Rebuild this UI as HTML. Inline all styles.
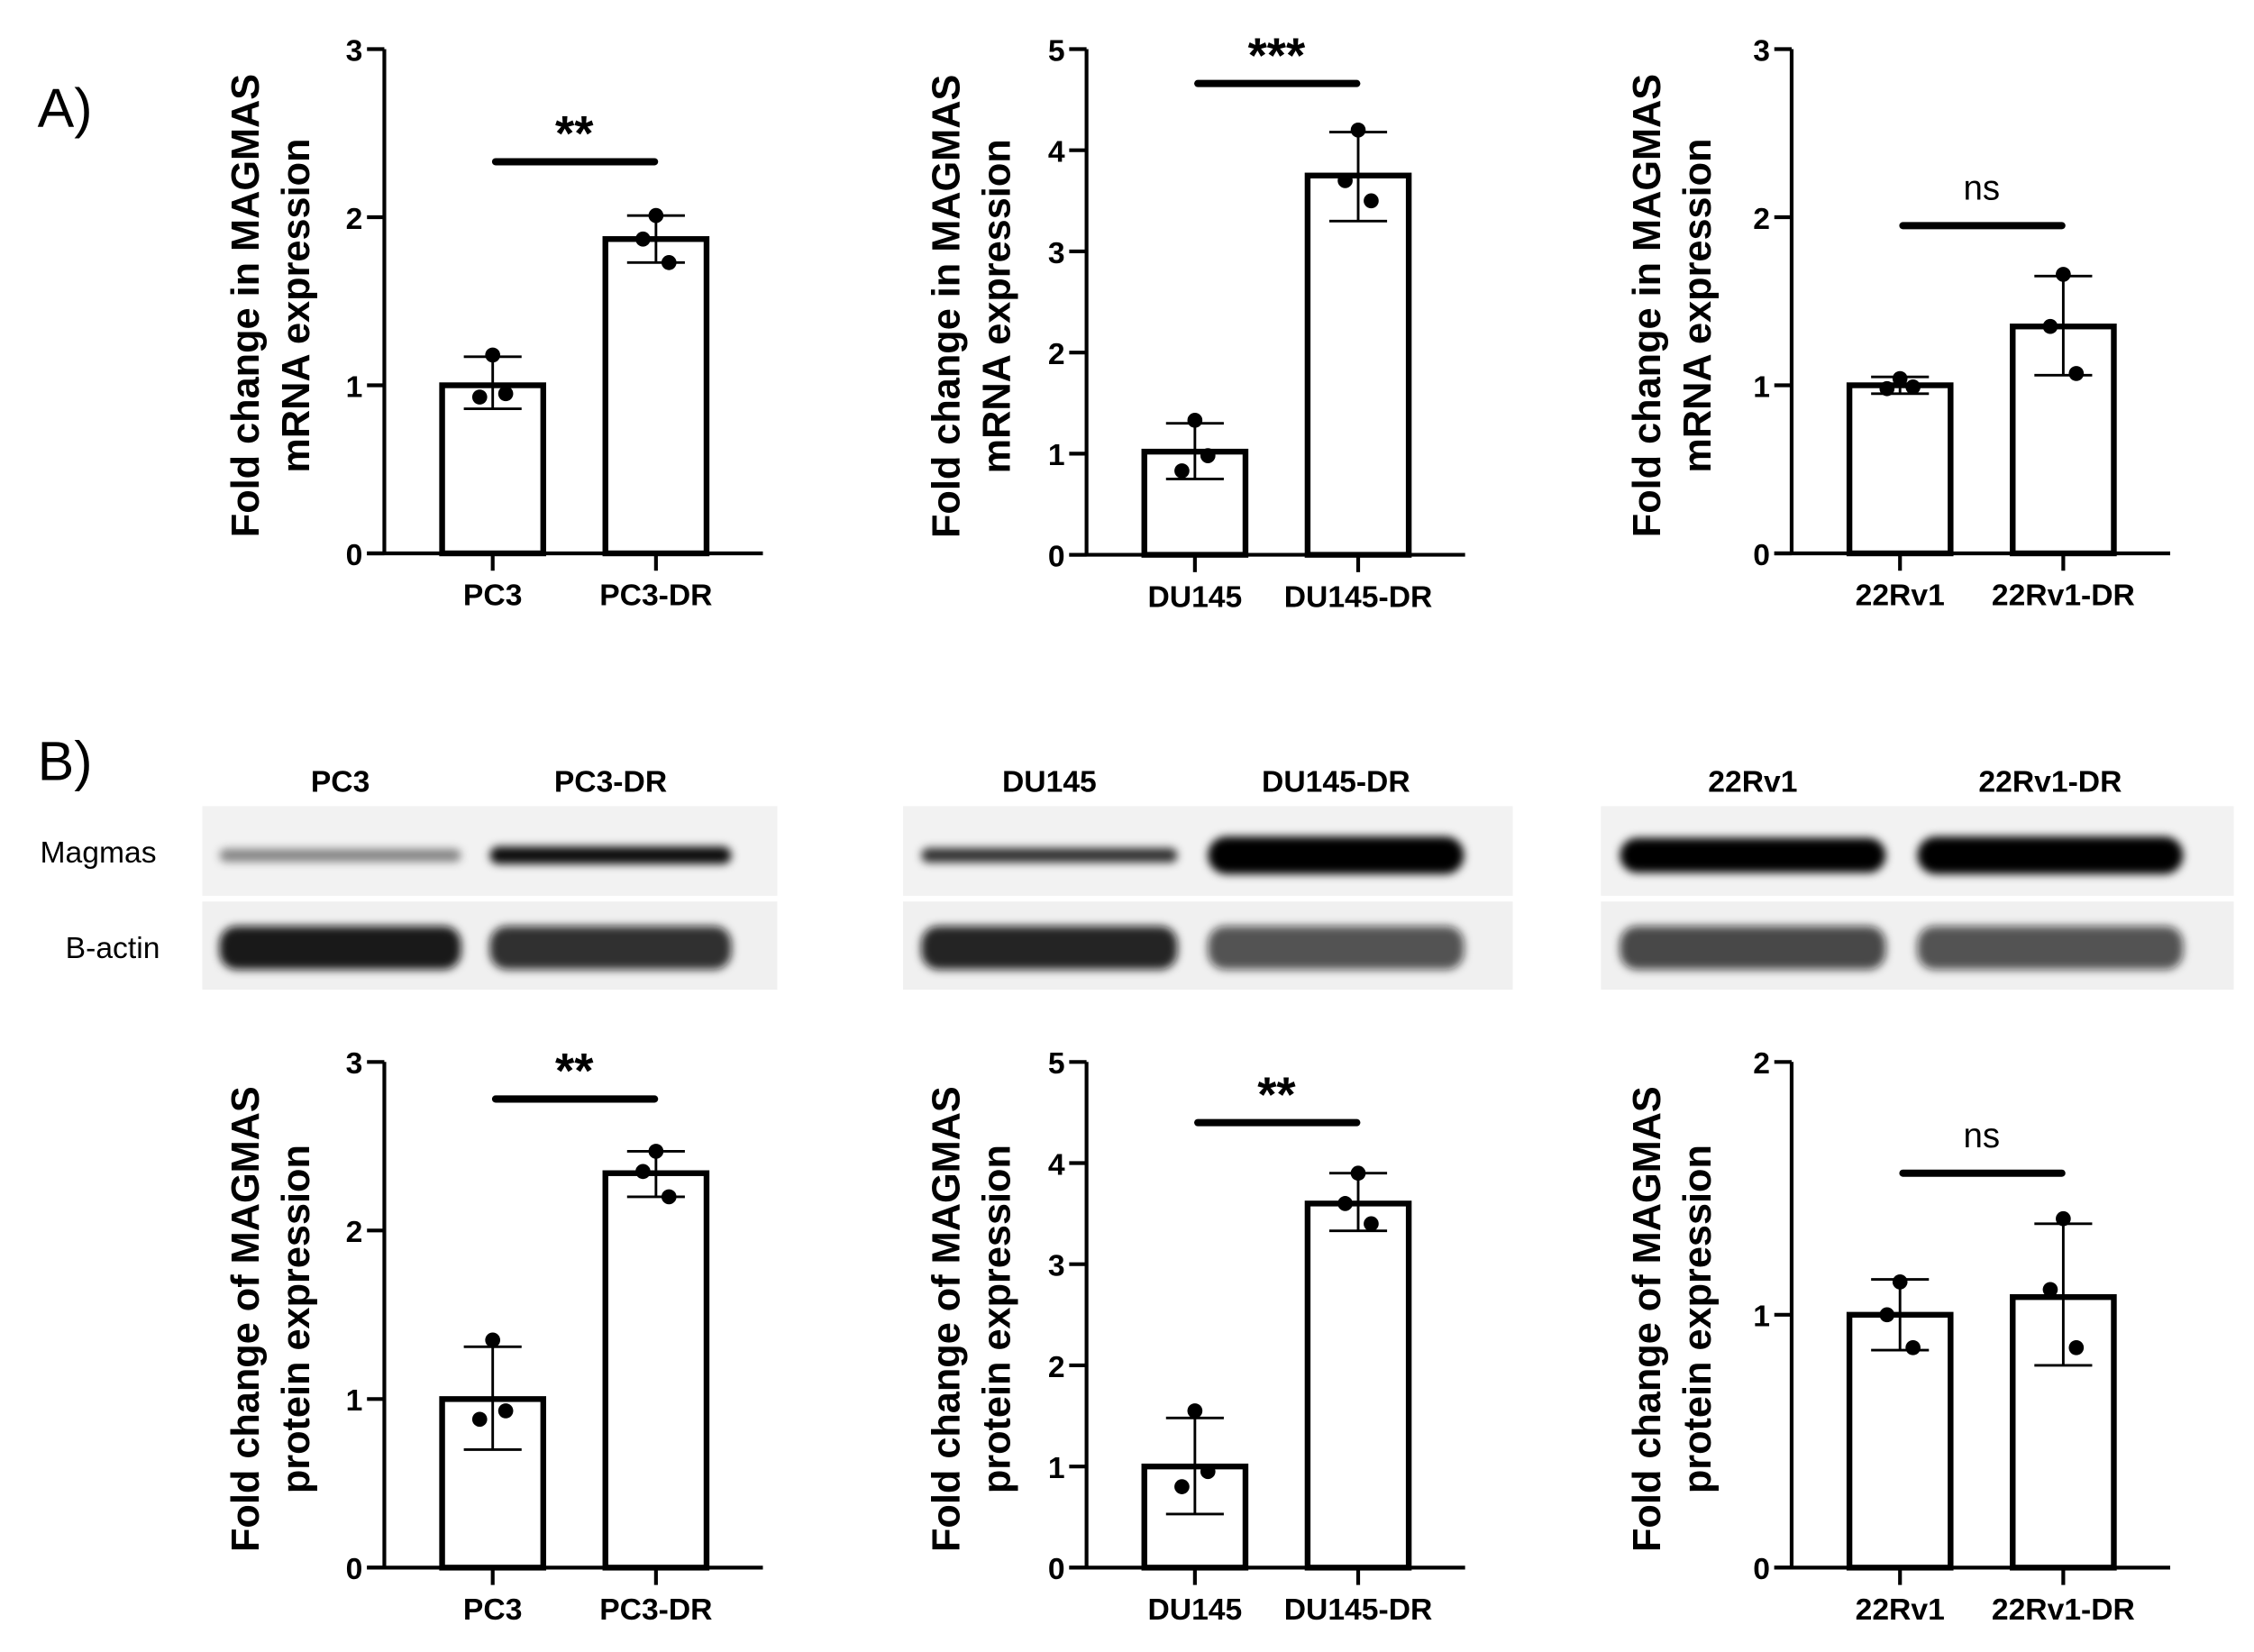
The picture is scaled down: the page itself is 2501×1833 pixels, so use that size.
<!DOCTYPE html>
<html><head><meta charset="utf-8"><style>
html,body{margin:0;padding:0;background:#fff}
#wrap{position:relative;width:2501px;height:1833px;overflow:hidden}
svg{display:block;position:absolute;left:0;top:0}
text{font-family:"Liberation Sans",Arial,sans-serif}
</style></head><body>
<div id="wrap"></div>
<script>
var mgTitlesA = ["Fold change in MAGMAS", "mRNA expression"];
var mgTitlesB = ["Fold change of MAGMAS", "protein expression"];
var catsA1 = ["PC3", "PC3-DR"];
var catsA2 = ["DU145", "DU145-DR"];
var catsA3 = ["22Rv1", "22Rv1-DR"];
var meansA1 = [1.0, 1.87];
var errLoA1 = [0.86, 1.73];
var errHiA1 = [1.17, 2.01];
var ptsA1 = [[1.18, 0.93, 0.95], [2.01, 1.87, 1.73]];
var meansA2 = [1.02, 3.75];
var errLoA2 = [0.75, 3.3];
var errHiA2 = [1.3, 4.18];
var ptsA2 = [[1.33, 0.83, 0.98], [4.2, 3.7, 3.5]];
var meansA3 = [1.0, 1.35];
var errLoA3 = [0.95, 1.06];
var errHiA3 = [1.05, 1.65];
var ptsA3 = [[1.04, 0.98, 0.99], [1.66, 1.35, 1.07]];
var meansB1 = [1.0, 2.34];
var errLoB1 = [0.7, 2.2];
var errHiB1 = [1.31, 2.47];
var ptsB1 = [[1.35, 0.88, 0.93], [2.47, 2.35, 2.2]];
var meansB2 = [1.0, 3.6];
var errLoB2 = [0.53, 3.33];
var errHiB2 = [1.48, 3.9];
var ptsB2 = [[1.55, 0.8, 0.95], [3.9, 3.6, 3.4]];
var meansB3 = [1.0, 1.07];
var errLoB3 = [0.86, 0.8];
var errHiB3 = [1.14, 1.36];
var ptsB3 = [[1.13, 1.0, 0.87], [1.38, 1.1, 0.87]];
var mgYMaxs = [3, 5, 3, 3, 5, 2];
var mgSigLabels = ["**", "***", "ns", "**", "**", "ns"];
var mgSigVals = [2.33, 4.66, 1.95, 2.78, 4.4, 1.56];
var blotCats = [["PC3", "PC3-DR"], ["DU145", "DU145-DR"], ["22Rv1", "22Rv1-DR"]];
var magDark = [[0.45, 0.95], [0.8, 1.0], [1.0, 1.0]];
var actDark = [[0.95, 0.85], [0.9, 0.7], [0.75, 0.7]];

var MG_SVGNS = "http://www.w3.org/2000/svg";

function mgEl(tag, parent) {
  var e = document.createElementNS(MG_SVGNS, tag);
  parent.appendChild(e);
  return e;
}
function mgSet(e, obj) {
  for (var k in obj) {
    if (Object.prototype.hasOwnProperty.call(obj, k)) {
      e.setAttribute(k, String(obj[k]));
    }
  }
}
function mgArr(v, fb) {
  if (v && typeof v.length === 'number' && v.length > 0) { return v; }
  return fb;
}
function mgData() {
  var d = {};
  d.tA = mgArr(typeof mgTitlesA !== 'undefined' ? mgTitlesA : null, ["Fold change in MAGMAS", "mRNA expression"]);
  d.tB = mgArr(typeof mgTitlesB !== 'undefined' ? mgTitlesB : null, ["Fold change of MAGMAS", "protein expression"]);
  d.cA1 = mgArr(typeof catsA1 !== 'undefined' ? catsA1 : null, ["PC3", "PC3-DR"]);
  d.cA2 = mgArr(typeof catsA2 !== 'undefined' ? catsA2 : null, ["DU145", "DU145-DR"]);
  d.cA3 = mgArr(typeof catsA3 !== 'undefined' ? catsA3 : null, ["22Rv1", "22Rv1-DR"]);
  d.mA1 = mgArr(typeof meansA1 !== 'undefined' ? meansA1 : null, [1.0, 1.87]);
  d.lA1 = mgArr(typeof errLoA1 !== 'undefined' ? errLoA1 : null, [0.86, 1.73]);
  d.hA1 = mgArr(typeof errHiA1 !== 'undefined' ? errHiA1 : null, [1.17, 2.01]);
  d.pA1 = mgArr(typeof ptsA1 !== 'undefined' ? ptsA1 : null, [[1.18, 0.93, 0.95], [2.01, 1.87, 1.73]]);
  d.mA2 = mgArr(typeof meansA2 !== 'undefined' ? meansA2 : null, [1.02, 3.75]);
  d.lA2 = mgArr(typeof errLoA2 !== 'undefined' ? errLoA2 : null, [0.75, 3.3]);
  d.hA2 = mgArr(typeof errHiA2 !== 'undefined' ? errHiA2 : null, [1.3, 4.18]);
  d.pA2 = mgArr(typeof ptsA2 !== 'undefined' ? ptsA2 : null, [[1.33, 0.83, 0.98], [4.2, 3.7, 3.5]]);
  d.mA3 = mgArr(typeof meansA3 !== 'undefined' ? meansA3 : null, [1.0, 1.35]);
  d.lA3 = mgArr(typeof errLoA3 !== 'undefined' ? errLoA3 : null, [0.95, 1.06]);
  d.hA3 = mgArr(typeof errHiA3 !== 'undefined' ? errHiA3 : null, [1.05, 1.65]);
  d.pA3 = mgArr(typeof ptsA3 !== 'undefined' ? ptsA3 : null, [[1.04, 0.98, 0.99], [1.66, 1.35, 1.07]]);
  d.mB1 = mgArr(typeof meansB1 !== 'undefined' ? meansB1 : null, [1.0, 2.34]);
  d.lB1 = mgArr(typeof errLoB1 !== 'undefined' ? errLoB1 : null, [0.7, 2.2]);
  d.hB1 = mgArr(typeof errHiB1 !== 'undefined' ? errHiB1 : null, [1.31, 2.47]);
  d.pB1 = mgArr(typeof ptsB1 !== 'undefined' ? ptsB1 : null, [[1.35, 0.88, 0.93], [2.47, 2.35, 2.2]]);
  d.mB2 = mgArr(typeof meansB2 !== 'undefined' ? meansB2 : null, [1.0, 3.6]);
  d.lB2 = mgArr(typeof errLoB2 !== 'undefined' ? errLoB2 : null, [0.53, 3.33]);
  d.hB2 = mgArr(typeof errHiB2 !== 'undefined' ? errHiB2 : null, [1.48, 3.9]);
  d.pB2 = mgArr(typeof ptsB2 !== 'undefined' ? ptsB2 : null, [[1.55, 0.8, 0.95], [3.9, 3.6, 3.4]]);
  d.mB3 = mgArr(typeof meansB3 !== 'undefined' ? meansB3 : null, [1.0, 1.07]);
  d.lB3 = mgArr(typeof errLoB3 !== 'undefined' ? errLoB3 : null, [0.86, 0.8]);
  d.hB3 = mgArr(typeof errHiB3 !== 'undefined' ? errHiB3 : null, [1.14, 1.36]);
  d.pB3 = mgArr(typeof ptsB3 !== 'undefined' ? ptsB3 : null, [[1.13, 1.0, 0.87], [1.38, 1.1, 0.87]]);
  d.yMax = mgArr(typeof mgYMaxs !== 'undefined' ? mgYMaxs : null, [3, 5, 3, 3, 5, 2]);
  d.sigL = mgArr(typeof mgSigLabels !== 'undefined' ? mgSigLabels : null, ["**", "***", "ns", "**", "**", "ns"]);
  d.sigV = mgArr(typeof mgSigVals !== 'undefined' ? mgSigVals : null, [2.33, 4.66, 1.95, 2.78, 4.4, 1.56]);
  d.bCats = mgArr(typeof blotCats !== 'undefined' ? blotCats : null, [["PC3", "PC3-DR"], ["DU145", "DU145-DR"], ["22Rv1", "22Rv1-DR"]]);
  d.mDark = mgArr(typeof magDark !== 'undefined' ? magDark : null, [[0.45, 0.95], [0.8, 1.0], [1.0, 1.0]]);
  d.aDark = mgArr(typeof actDark !== 'undefined' ? actDark : null, [[0.95, 0.85], [0.9, 0.7], [0.75, 0.7]]);
  return d;
}

function mgPanel(root, p, yMax, sigLab, sigVal) {
  var g = mgEl('g', root);
  
  
  function sy(v) { return p.y0 - (Number(v) / yMax) * (p.y0 - p.y1); }
  function xc(k) { return p.ax + 75 + k * 113; }
  var bw = 70;
  var ya = mgEl('line', g);
  mgSet(ya, {x1:p.ax, y1:p.y1, x2:p.ax, y2:p.y0, stroke:'#000', 'stroke-width':2.6});
  
  
  var xa = mgEl('line', g);
  mgSet(xa, {x1:p.ax - 12, y1:p.y0, x2:p.ax + 262, y2:p.y0, stroke:'#000', 'stroke-width':2.6});
  
  
  for (var t = 0; t <= yMax; t++) {
    var tk = mgEl('line', g);
    mgSet(tk, {x1:p.ax - 12, y1:sy(t), x2:p.ax, y2:sy(t), stroke:'#000', 'stroke-width':2.6});
    
    
    var tl = mgEl('text', g);
    mgSet(tl, {x:p.ax - 15, y:sy(t) + 8, 'font-size':21, 'font-weight':'bold', 'text-anchor':'end'});
    tl.textContent = String(t);
    
    
  }
  var cy = (p.y0 + p.y1) / 2 + 3;
  var tt = mgEl('text', g);
  mgSet(tt, {transform:'translate(' + (p.tx + 9) + ',' + cy + ') rotate(-90)', 'font-size':27, 'font-weight':'bold', 'text-anchor':'middle'});
  tt.textContent = String(p.titles[0]);
  
  
  var tt2 = mgEl('text', g);
  mgSet(tt2, {transform:'translate(' + (p.tx + 44) + ',' + cy + ') rotate(-90)', 'font-size':27, 'font-weight':'bold', 'text-anchor':'middle'});
  tt2.textContent = String(p.titles[1]);
  
  
  var offs = [0, -9, 9];
  for (var k = 0; k < p.cats.length; k++) {
    var cx = xc(k);
    var xt = mgEl('line', g);
    mgSet(xt, {x1:cx, y1:p.y0, x2:cx, y2:p.y0 + 12, stroke:'#000', 'stroke-width':2.6});
    
    
    var cl = mgEl('text', g);
    mgSet(cl, {x:cx, y:p.y0 + 36, 'font-size':21, 'font-weight':'bold', 'text-anchor':'middle'});
    cl.textContent = String(p.cats[k]);
    
    
    var b = mgEl('rect', g);
    mgSet(b, {x:cx - bw / 2, y:sy(p.means[k]), width:bw, height:Math.max(0, p.y0 - sy(p.means[k])), fill:'#fff', stroke:'#000', 'stroke-width':4});
    
    
    var eb = mgEl('path', g);
    mgSet(eb, {d:'M' + cx + ',' + sy(p.lo[k]) + 'V' + sy(p.hi[k]) + 'M' + (cx - 20) + ',' + sy(p.hi[k]) + 'H' + (cx + 20) + 'M' + (cx - 20) + ',' + sy(p.lo[k]) + 'H' + (cx + 20), stroke:'#000', 'stroke-width':1.8, fill:'none'});
    
    
    var pts = p.pts[k] || [];
    for (var j = 0; j < pts.length; j++) {
      var dot = mgEl('circle', g);
      mgSet(dot, {cx:cx + offs[j % 3], cy:sy(pts[j]), r:5.2, fill:'#000'});
      
      
    }
  }
  var ly = sy(sigVal);
  var sl = mgEl('line', g);
  mgSet(sl, {x1:xc(0) + 2, y1:ly, x2:xc(1) - 1, y2:ly, stroke:'#000', 'stroke-width':5, 'stroke-linecap':'round'});
  
  
  var isNs = sigLab === 'ns';
  var st = mgEl('text', g);
  mgSet(st, {x:(xc(0) + xc(1)) / 2, y:isNs ? ly - 18 : ly - 8, 'font-size':isNs ? 24 : 34, 'font-weight':isNs ? 'normal' : 'bold', 'text-anchor':'middle'});
  st.textContent = String(sigLab);
  
  
}

function mgBlots(root, D) {
  var blotX = [[140, 538], [625, 1047], [1108, 1546]];
  var magThick = [[9, 12], [10, 26], [24, 26]];
  for (var i = 0; i < blotX.length; i++) {
    var bx = blotX[i];
    var g = mgEl('g', root);
    
    
    var w = bx[1] - bx[0];
    var s1 = mgEl('rect', g);
    mgSet(s1, {x:bx[0], y:558, width:w, height:62, fill:'#f2f2f2'});
    
    
    var s2 = mgEl('rect', g);
    mgSet(s2, {x:bx[0], y:624, width:w, height:61, fill:'#f0f0f0'});
    
    
    for (var k = 0; k < 2; k++) {
      var lx = bx[0] + w * (k === 0 ? 0.24 : 0.71);
      var lw = w * 0.42;
      var lab = mgEl('text', g);
      mgSet(lab, {x:lx, y:548, 'font-size':21, 'font-weight':'bold', 'text-anchor':'middle'});
      lab.textContent = String(D.bCats[i][k]);
      
      
      var th = magThick[i][k];
      var mb = mgEl('rect', g);
      mgSet(mb, {x:lx - lw / 2, y:592 - th / 2, width:lw, height:th, rx:th / 2, fill:'#000', 'fill-opacity':D.mDark[i][k], filter:'url(#mgblur)'});
      
      
      var ab = mgEl('rect', g);
      mgSet(ab, {x:lx - lw / 2, y:641, width:lw, height:30, rx:12, fill:'#111', 'fill-opacity':D.aDark[i][k], filter:'url(#mgblur)'});
      
      
    }
  }
  var l1 = mgEl('text', root);
  mgSet(l1, {x:68, y:597, 'font-size':21, 'text-anchor':'middle'});
  l1.textContent = 'Magmas';
  
  
  var l2 = mgEl('text', root);
  mgSet(l2, {x:78, y:663, 'font-size':21, 'text-anchor':'middle'});
  l2.textContent = 'B-actin';
  
  
}

function mgDraw() {
  var host = document.getElementById('wrap') || document.body;
  var svg = document.createElementNS(MG_SVGNS, 'svg');
  svg.setAttribute('width', '2501');
  svg.setAttribute('height', '1833');
  svg.setAttribute('viewBox', '0 0 1560 1143.4');
  svg.setAttribute('preserveAspectRatio', 'none');
  
  
  host.appendChild(svg);

  try {
    var defs = mgEl('defs', svg);
    var flt = mgEl('filter', defs);
    mgSet(flt, {id:'mgblur', x:'-10%', y:'-100%', width:'120%', height:'300%'});
    var gb = mgEl('feGaussianBlur', flt);
    mgSet(gb, {stdDeviation:'3'});
  } catch (err) {}

  var la = mgEl('text', svg);
  mgSet(la, {x:26, y:88, 'font-size':38});
  la.textContent = 'A)';
  
  
  var lb = mgEl('text', svg);
  mgSet(lb, {x:26, y:540, 'font-size':38});
  lb.textContent = 'B)';
  
  

  var D = mgData();
  var panels = [
    {ax:266,y0:383,y1:34,cats:D.cA1,means:D.mA1,lo:D.lA1,hi:D.hA1,pts:D.pA1,titles:D.tA,tx:170},
    {ax:752,y0:384,y1:34,cats:D.cA2,means:D.mA2,lo:D.lA2,hi:D.hA2,pts:D.pA2,titles:D.tA,tx:655},
    {ax:1240,y0:383,y1:34,cats:D.cA3,means:D.mA3,lo:D.lA3,hi:D.hA3,pts:D.pA3,titles:D.tA,tx:1140},
    {ax:266,y0:1085,y1:735,cats:D.cA1,means:D.mB1,lo:D.lB1,hi:D.hB1,pts:D.pB1,titles:D.tB,tx:170},
    {ax:752,y0:1085,y1:735,cats:D.cA2,means:D.mB2,lo:D.lB2,hi:D.hB2,pts:D.pB2,titles:D.tB,tx:655},
    {ax:1240,y0:1085,y1:735,cats:D.cA3,means:D.mB3,lo:D.lB3,hi:D.hB3,pts:D.pB3,titles:D.tB,tx:1140}
  ];
  for (var i = 0; i < panels.length; i++) {
    try { mgPanel(svg, panels[i], Number(D.yMax[i]), D.sigL[i], D.sigV[i]); } catch (err) {}
  }
  try { mgBlots(svg, D); } catch (err) {}
}

try { mgDraw(); } catch (err) {}
</script>
</body></html>
